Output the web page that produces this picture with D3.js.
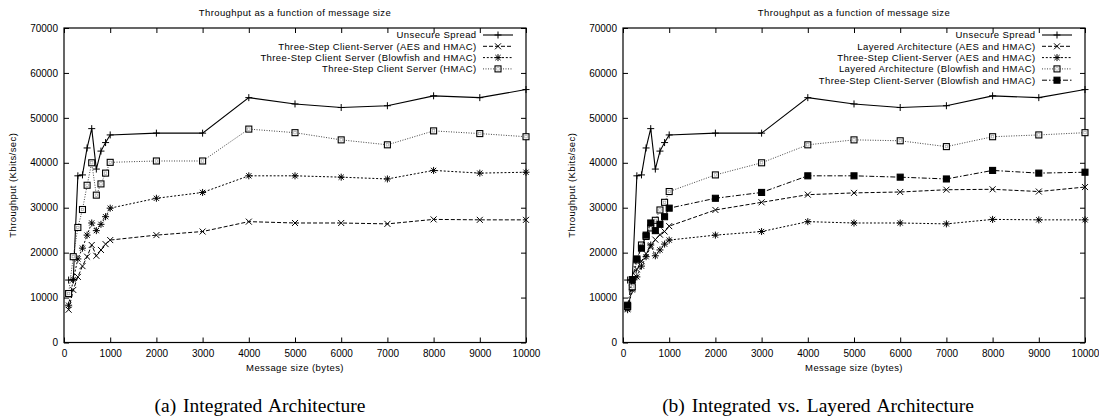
<!DOCTYPE html>
<html>
<head>
<meta charset="utf-8">
<script src="https://cdn.jsdelivr.net/npm/d3@7"></script>
<style>
body { margin: 0; background: #fff; }
text { font-family: "Liberation Sans", Arial, sans-serif; font-size: 9.5px; letter-spacing: 0.4px; fill: #000; }
.caption { font-family: "Liberation Serif", "Times New Roman", serif; font-size: 19.5px; letter-spacing: 0; word-spacing: 2px; }
</style>
</head>
<body>
<div id="chart"></div>
<script>
// message sizes (bytes)
const sizes = [100, 200, 300, 400, 500, 600, 700, 800, 900, 1000,
    2000, 3000, 4000, 5000, 6000, 7000, 8000, 9000, 10000];

// throughput (Kbits/sec)
const unsecure = [13900, 13900, 37100, 37300, 43300, 47600, 38600, 42600, 44500, 46200,
    46600, 46600, 54500, 53100, 52300, 52700, 54900, 54500, 56300];
const threeAes = [7300, 11700, 14600, 17000, 19100, 21700, 19300, 20600, 21900, 22800,
    23900, 24700, 26900, 26600, 26600, 26400, 27400, 27300, 27300];
const threeBlowfish = [8300, 14000, 18600, 21000, 23900, 26600, 24900, 26300, 28000, 29900,
    32100, 33400, 37100, 37100, 36800, 36400, 38300, 37700, 37900];
const threeHmac = [10900, 19100, 25600, 29600, 35000, 40000, 32800, 35300, 37700, 40100,
    40400, 40400, 47500, 46700, 45100, 44000, 47100, 46500, 45800];
const layeredAes = [7600, 12000, 16300, 18100, 19800, 21400, 22900, 24000, 24700, 25900,
    29500, 31200, 32900, 33300, 33500, 34000, 34100, 33600, 34600];
const layeredBlowfish = [8000, 12400, 18400, 21700, 23600, 25500, 27200, 29500, 31200, 33600,
    37300, 40000, 44000, 45100, 44900, 43600, 45800, 46200, 46700];

const xTicks = [0, 1000, 2000, 3000, 4000, 5000, 6000, 7000, 8000, 9000, 10000];
const yTicks = [0, 10000, 20000, 30000, 40000, 50000, 60000, 70000];

// line / point styles (gnuplot-ish)
const styles = {
    solid:   { dash: null,        color: '#000', width: 1.1, mark: 'plus' },
    dashed:  { dash: '4,2',       color: '#000', width: 1,   mark: 'cross' },
    dotted:  { dash: '2,1.8',     color: '#000', width: 1,   mark: 'star' },
    fine:    { dash: '1,1.5',     color: '#444', width: 1,   mark: 'box' },
    dashdot: { dash: '5,2,1.5,2', color: '#000', width: 1,   mark: 'fbox' }
};

const markPaths = {
    plus: 'M-3.5,0H3.5M0,-3.5V3.5',
    cross: 'M-3,-3L3,3M-3,3L3,-3',
    star: 'M-3.5,0H3.5M0,-3.5V3.5M-2.6,-2.6L2.6,2.6M-2.6,2.6L2.6,-2.6'
};

function Panel(svg, opts) {
    this.init(svg, opts);
}

Panel.prototype.init = function(svg, opts) {
    let vis = this;

    vis.g = svg.append('g');
    vis.left = opts.left;
    vis.right = opts.right;
    vis.top = 28;
    vis.bottom = 342.5;

    vis.x = d3.scaleLinear().domain([0, 10000]).range([vis.left, vis.right]);
    vis.y = d3.scaleLinear().domain([0, 70000]).range([vis.bottom, vis.top]);

    let mid = (vis.left + vis.right) / 2;

    vis.g.append('text')
        .attr('x', mid)
        .attr('y', 16)
        .attr('text-anchor', 'middle')
        .text('Throughput as a function of message size');

    vis.g.append('text')
        .attr('x', mid)
        .attr('y', 371)
        .attr('text-anchor', 'middle')
        .text('Message size (bytes)');

    vis.g.append('text')
        .attr('transform', 'translate(' + (vis.left - 48) + ',' + ((vis.top + vis.bottom) / 2) + ') rotate(-90)')
        .attr('text-anchor', 'middle')
        .text('Throughput (Kbits/sec)');

    vis.g.append('text')
        .attr('class', 'caption')
        .attr('x', opts.captionX)
        .attr('y', 412)
        .attr('text-anchor', 'middle')
        .text(opts.caption);

    // axes with inward ticks, mirrored on top/right
    let xAxis = d3.axisBottom(vis.x).tickValues(xTicks).tickSize(-5).tickPadding(7).tickFormat(d3.format('d'));
    let yAxis = d3.axisLeft(vis.y).tickValues(yTicks).tickSize(-5).tickPadding(6).tickFormat(d3.format('d'));

    vis.g.append('g').attr('transform', 'translate(0,' + vis.bottom + ')').call(xAxis);
    vis.g.append('g').attr('transform', 'translate(' + vis.left + ',0)').call(yAxis);
    vis.g.append('g').attr('transform', 'translate(0,' + vis.top + ')')
        .call(d3.axisTop(vis.x).tickValues(xTicks).tickSize(-5).tickFormat(''));
    vis.g.append('g').attr('transform', 'translate(' + vis.right + ',0)')
        .call(d3.axisRight(vis.y).tickValues(yTicks).tickSize(-5).tickFormat(''));

    vis.g.selectAll('.domain').remove();
    vis.g.selectAll('.tick line').attr('stroke', '#000').attr('stroke-width', 1);
    vis.g.selectAll('.tick text')
        .style('font-family', '"Liberation Sans", Arial, sans-serif')
        .style('font-size', '10px')
        .style('letter-spacing', '0')
        .attr('fill', '#000');

    vis.g.append('rect')
        .attr('x', vis.left)
        .attr('y', vis.top)
        .attr('width', vis.right - vis.left)
        .attr('height', vis.bottom - vis.top)
        .attr('fill', 'none')
        .attr('stroke', '#000')
        .attr('stroke-width', 1.2);

    vis.legendY = 35;
    vis.legendTextX = vis.right - 49.5;
}

Panel.prototype.mark = function(sel, type) {
    if (type == 'box' || type == 'fbox') {
        sel.append('rect')
            .attr('x', -3)
            .attr('y', -3)
            .attr('width', 6)
            .attr('height', 6)
            .attr('fill', type == 'fbox' ? '#000' : '#fff')
            .attr('stroke', '#000')
            .attr('stroke-width', 1.1);
        if (type == 'box') {
            sel.append('rect')
                .attr('x', -1.2)
                .attr('y', -1.2)
                .attr('width', 2.4)
                .attr('height', 2.4)
                .attr('fill', 'none')
                .attr('stroke', '#999')
                .attr('stroke-width', 0.6);
        }
    } else {
        sel.append('path')
            .attr('d', markPaths[type])
            .attr('stroke', '#000')
            .attr('stroke-width', 1)
            .attr('fill', 'none');
    }
}

Panel.prototype.update = function(series) {
    let vis = this;

    let line = d3.line()
        .x((d, i) => vis.x(sizes[i]))
        .y(d => vis.y(d));

    series.forEach((s, k) => {
        let st = styles[s.style];

        vis.g.append('path')
            .datum(s.values)
            .attr('d', line)
            .attr('fill', 'none')
            .attr('stroke', st.color)
            .attr('stroke-width', st.width)
            .attr('stroke-dasharray', st.dash);

        vis.g.append('g').selectAll('g')
            .data(s.values)
            .enter()
            .append('g')
            .attr('transform', (d, i) => 'translate(' + vis.x(sizes[i]) + ',' + vis.y(d) + ')')
            .each(function() {
                vis.mark(d3.select(this), st.mark);
            });

        // legend entry
        let ly = vis.legendY + k * 11.3;
        vis.g.append('text')
            .attr('x', vis.legendTextX)
            .attr('y', ly + 3.4)
            .attr('text-anchor', 'end')
            .text(s.label);

        vis.g.append('line')
            .attr('x1', vis.legendTextX + 6.5)
            .attr('x2', vis.legendTextX + 36.5)
            .attr('y1', ly)
            .attr('y2', ly)
            .attr('stroke', st.color)
            .attr('stroke-width', st.width)
            .attr('stroke-dasharray', st.dash);

        let lg = vis.g.append('g')
            .attr('transform', 'translate(' + (vis.legendTextX + 21.5) + ',' + ly + ')');
        vis.mark(lg, st.mark);
    });
}

let svg = d3.select('#chart').append('svg')
    .attr('width', 1099)
    .attr('height', 420);

let panelA = new Panel(svg, { left: 64, right: 526, captionX: 260, caption: '(a) Integrated Architecture' });
panelA.update([
    { label: 'Unsecure Spread', values: unsecure, style: 'solid' },
    { label: 'Three-Step Client-Server (AES and HMAC)', values: threeAes, style: 'dashed' },
    { label: 'Three-Step Client Server (Blowfish and HMAC)', values: threeBlowfish, style: 'dotted' },
    { label: 'Three-Step Client Server (HMAC)', values: threeHmac, style: 'fine' }
]);

let panelB = new Panel(svg, { left: 623, right: 1085, captionX: 818, caption: '(b) Integrated vs. Layered Architecture' });
panelB.update([
    { label: 'Unsecure Spread', values: unsecure, style: 'solid' },
    { label: 'Layered Architecture (AES and HMAC)', values: layeredAes, style: 'dashed' },
    { label: 'Three-Step Client-Server (AES and HMAC)', values: threeAes, style: 'dotted' },
    { label: 'Layered Architecture (Blowfish and HMAC)', values: layeredBlowfish, style: 'fine' },
    { label: 'Three-Step Client-Server (Blowfish and HMAC)', values: threeBlowfish, style: 'dashdot' }
]);
</script>
</body>
</html>
